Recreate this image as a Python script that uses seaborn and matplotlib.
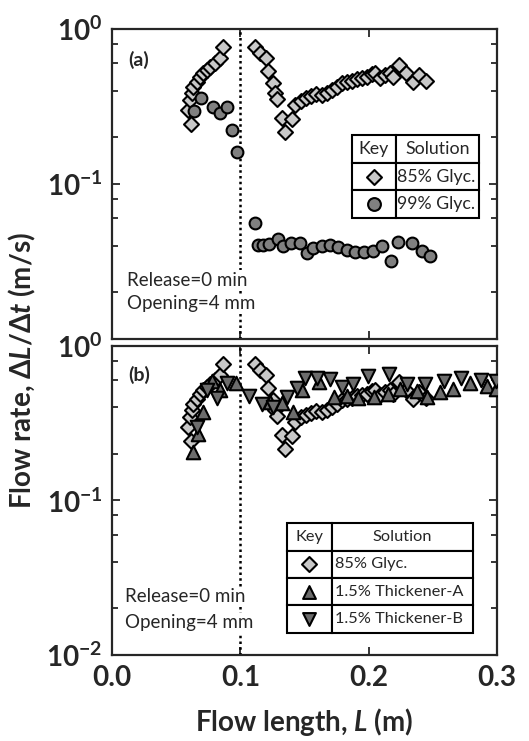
import matplotlib
matplotlib.use('Agg')
import matplotlib.pyplot as plt
import seaborn as sns
from matplotlib.ticker import LogLocator, NullFormatter

# ---- data ----
# 85% Glyc. (same series in both panels)
glyc85_L = [0.0616, 0.0592, 0.0608, 0.0623, 0.0631, 0.0662, 0.0686, 0.0709, 0.0738, 0.0764, 0.0803, 0.0842, 0.0863,
            0.1114, 0.1153, 0.1200, 0.1216, 0.1255, 0.1270, 0.1286, 0.1325, 0.1348, 0.1403, 0.1426, 0.1470, 0.1510,
            0.1550, 0.1590, 0.1636, 0.1675, 0.1714, 0.1753, 0.1792, 0.1831, 0.1870, 0.1909, 0.1948, 0.1987, 0.2026,
            0.2049, 0.2088, 0.2127, 0.2166, 0.2190, 0.2236, 0.2291, 0.2345, 0.2392, 0.2447]
glyc85_v = [0.244, 0.300, 0.348, 0.386, 0.423, 0.455, 0.490, 0.520, 0.544, 0.569, 0.603, 0.650, 0.762,
            0.765, 0.700, 0.650, 0.536, 0.449, 0.386, 0.353, 0.267, 0.216, 0.262, 0.323, 0.345, 0.360,
            0.370, 0.378, 0.375, 0.386, 0.404, 0.423, 0.449, 0.455, 0.462, 0.476, 0.483, 0.490, 0.513,
            0.520, 0.483, 0.505, 0.520, 0.490, 0.586, 0.520, 0.455, 0.505, 0.462]

# 99% Glyc. (panel a)
glyc99_L = [0.0641, 0.0691, 0.0790, 0.0842, 0.0894, 0.0933, 0.0976,
            0.1114, 0.1140, 0.1179, 0.1226, 0.1291, 0.1335, 0.1393, 0.1465, 0.1517, 0.1569, 0.1634, 0.1699,
            0.1763, 0.1829, 0.1894, 0.1964, 0.2031, 0.2102, 0.2172, 0.2231, 0.2340, 0.2413, 0.2478]
glyc99_v = [0.297, 0.357, 0.314, 0.287, 0.314, 0.223, 0.160,
            0.0562, 0.0404, 0.0404, 0.0410, 0.0440, 0.0398, 0.0418, 0.0418, 0.0360, 0.0385, 0.0398, 0.0404,
            0.0394, 0.0375, 0.0366, 0.0363, 0.0371, 0.0398, 0.0320, 0.0424, 0.0414, 0.0370, 0.0343]

# 1.5% Thickener-A (panel b)
thickA_L = [0.0634, 0.0672, 0.0711, 0.0777, 0.0842, 0.0969, 0.1231, 0.1322, 0.1413, 0.1478, 0.1613, 0.1730,
            0.1829, 0.1919, 0.2042, 0.2147, 0.2248, 0.2374, 0.2452, 0.2556, 0.2660, 0.2790, 0.2920, 0.2990]
thickA_v = [0.207, 0.269, 0.376, 0.593, 0.519, 0.580, 0.436, 0.426, 0.376, 0.515, 0.587, 0.464,
            0.475, 0.458, 0.464, 0.489, 0.527, 0.511, 0.464, 0.500, 0.527, 0.580, 0.551, 0.527]

# 1.5% Thickener-B (panel b)
thickB_L = [0.0660, 0.0740, 0.0816, 0.0894, 0.1070, 0.1165, 0.1257, 0.1361, 0.1439, 0.1504, 0.1601, 0.1699,
            0.1790, 0.1880, 0.1997, 0.2158, 0.2296, 0.2439, 0.2587, 0.2719, 0.2875, 0.2990]
thickB_v = [0.300, 0.520, 0.458, 0.574, 0.471, 0.421, 0.405, 0.469, 0.532, 0.625, 0.625, 0.611,
            0.539, 0.568, 0.640, 0.659, 0.568, 0.568, 0.589, 0.625, 0.602, 0.593]

c_light = '#c8c8c8'
c_mid = '#808080'
c_dark = '#6c6c6c'

sns.set_style('ticks')
plt.rcParams['font.family'] = ['Lato', 'DejaVu Sans']
plt.rcParams['mathtext.fontset'] = 'custom'
plt.rcParams['mathtext.rm'] = 'Lato:bold'
plt.rcParams['mathtext.it'] = 'Lato:italic:bold'
plt.rcParams['mathtext.bf'] = 'Lato:bold'
plt.rcParams['mathtext.fallback'] = 'stixsans'

fig = plt.figure(figsize=(5.29, 7.41), dpi=100)
ax1 = fig.add_axes([0.2117, 0.5425, 0.7278, 0.4184])
ax2 = fig.add_axes([0.2117, 0.1161, 0.7278, 0.4170])

dia = dict(marker='D', s=58, color=c_light, edgecolor='black', linewidth=1.5)
sns.scatterplot(x=glyc85_L, y=glyc85_v, ax=ax1, zorder=3, **dia)
sns.scatterplot(x=glyc99_L, y=glyc99_v, ax=ax1, marker='o', s=72, color=c_mid,
                edgecolor='black', linewidth=1.5, zorder=4)

sns.scatterplot(x=glyc85_L, y=glyc85_v, ax=ax2, zorder=3, **dia)
sns.scatterplot(x=thickA_L, y=thickA_v, ax=ax2, marker='^', s=95, color=c_dark,
                edgecolor='black', linewidth=1.5, zorder=4)
sns.scatterplot(x=thickB_L, y=thickB_v, ax=ax2, marker='v', s=95, color=c_dark,
                edgecolor='black', linewidth=1.5, zorder=4)

ylab = [r'$\mathdefault{10^{-2}}$', r'$\mathdefault{10^{-1}}$', r'$\mathdefault{10^{0}}$']
for ax in (ax1, ax2):
    ax.set_yscale('log')
    ax.set_xlim(0, 0.3)
    ax.set_ylim(0.01, 1)
    ax.axvline(0.1, color='black', ls=(0, (1, 1.3)), lw=1.8, zorder=1)
    ax.set_yticks([0.01, 0.1, 1])
    ax.yaxis.set_minor_locator(LogLocator(base=10, subs=[2, 4, 6, 8], numticks=10))
    ax.yaxis.set_minor_formatter(NullFormatter())
    ax.set_xticks([0.0, 0.1, 0.2, 0.3])
    ax.set_xticklabels(['0.0', '0.1', '0.2', '0.3'])
    ax.tick_params(which='both', direction='in', top=True, right=True, width=1.3)
    ax.tick_params(which='major', length=6, labelsize=20, pad=7)
    ax.tick_params(which='minor', length=4)
    for sp in ax.spines.values():
        sp.set_linewidth(1.6)
    for lab in ax.get_xticklabels() + ax.get_yticklabels():
        lab.set_fontweight('bold')
    ax.set_xlabel('')
    ax.set_ylabel('')

ax1.set_yticklabels(['', ylab[1], ylab[2]], fontweight='bold')
ax2.set_yticklabels(ylab, fontweight='bold')
ax1.tick_params(labelbottom=False)

box = dict(facecolor='white', edgecolor='none', pad=1)
ax1.text(0.042, 0.90, '(a)', transform=ax1.transAxes, fontsize=14, fontweight='bold', va='center')
ax2.text(0.042, 0.906, '(b)', transform=ax2.transAxes, fontsize=14, fontweight='bold', va='center')
ax1.text(0.038, 0.19, 'Release=0 min', transform=ax1.transAxes, fontsize=13.5, va='center', bbox=box, zorder=5)
ax1.text(0.038, 0.113, 'Opening=4 mm', transform=ax1.transAxes, fontsize=13.5, va='center', bbox=box, zorder=5)
ax2.text(0.034, 0.188, 'Release=0 min', transform=ax2.transAxes, fontsize=13.5, va='center', bbox=box, zorder=5)
ax2.text(0.034, 0.104, 'Opening=4 mm', transform=ax2.transAxes, fontsize=13.5, va='center', bbox=box, zorder=5)


def key_table(ax, names, bbox, widths, markers, colors, size):
    cells = [['Key', 'Solution']] + [['', n] for n in names]
    tb = ax.table(cellText=cells, colWidths=widths, bbox=bbox, cellLoc='left')
    tb.auto_set_font_size(False)
    tb.set_fontsize(size)
    tb.set_zorder(6)
    for (r, c), cell in tb.get_celld().items():
        cell.set_linewidth(1.5)
        cell.set_edgecolor('black')
        if r == 0:
            cell.get_text().set_ha('center')
            cell._loc = 'center'
        cell.PAD = 0.02
    x0, y0, w, h = bbox
    nrow = len(cells)
    xk = x0 + w * widths[0] / 2
    for i, (m, col) in enumerate(zip(markers, colors)):
        yk = y0 + h - h * (i + 1.5) / nrow
        ax.scatter([xk], [yk], transform=ax.transAxes, marker=m, s=85 if m != 'D' else 58,
                   color=col, edgecolor='black', linewidth=1.5, zorder=7, clip_on=False)


key_table(ax1, ['85% Glyc.', '99% Glyc.'], [0.623, 0.390, 0.330, 0.268], [0.346, 0.654],
          ['D', 'o'], [c_light, c_mid], 12.8)
key_table(ax2, ['85% Glyc.', '1.5% Thickener-A', '1.5% Thickener-B'], [0.4545, 0.0712, 0.4832, 0.3558],
          [0.242, 0.758], ['D', '^', 'v'], [c_light, c_dark, c_dark], 11.8)

fig.text(0.042, 0.50, r'Flow rate, $\mathit{\Delta L/\Delta t}$ (m/s)', rotation=90, ha='center', va='center',
         fontsize=20, fontweight='bold')
fig.text(0.576, 0.026, r'Flow length, $\mathit{L}$ (m)', ha='center', va='center',
         fontsize=20, fontweight='bold')

fig.savefig('out.png', dpi=100)
